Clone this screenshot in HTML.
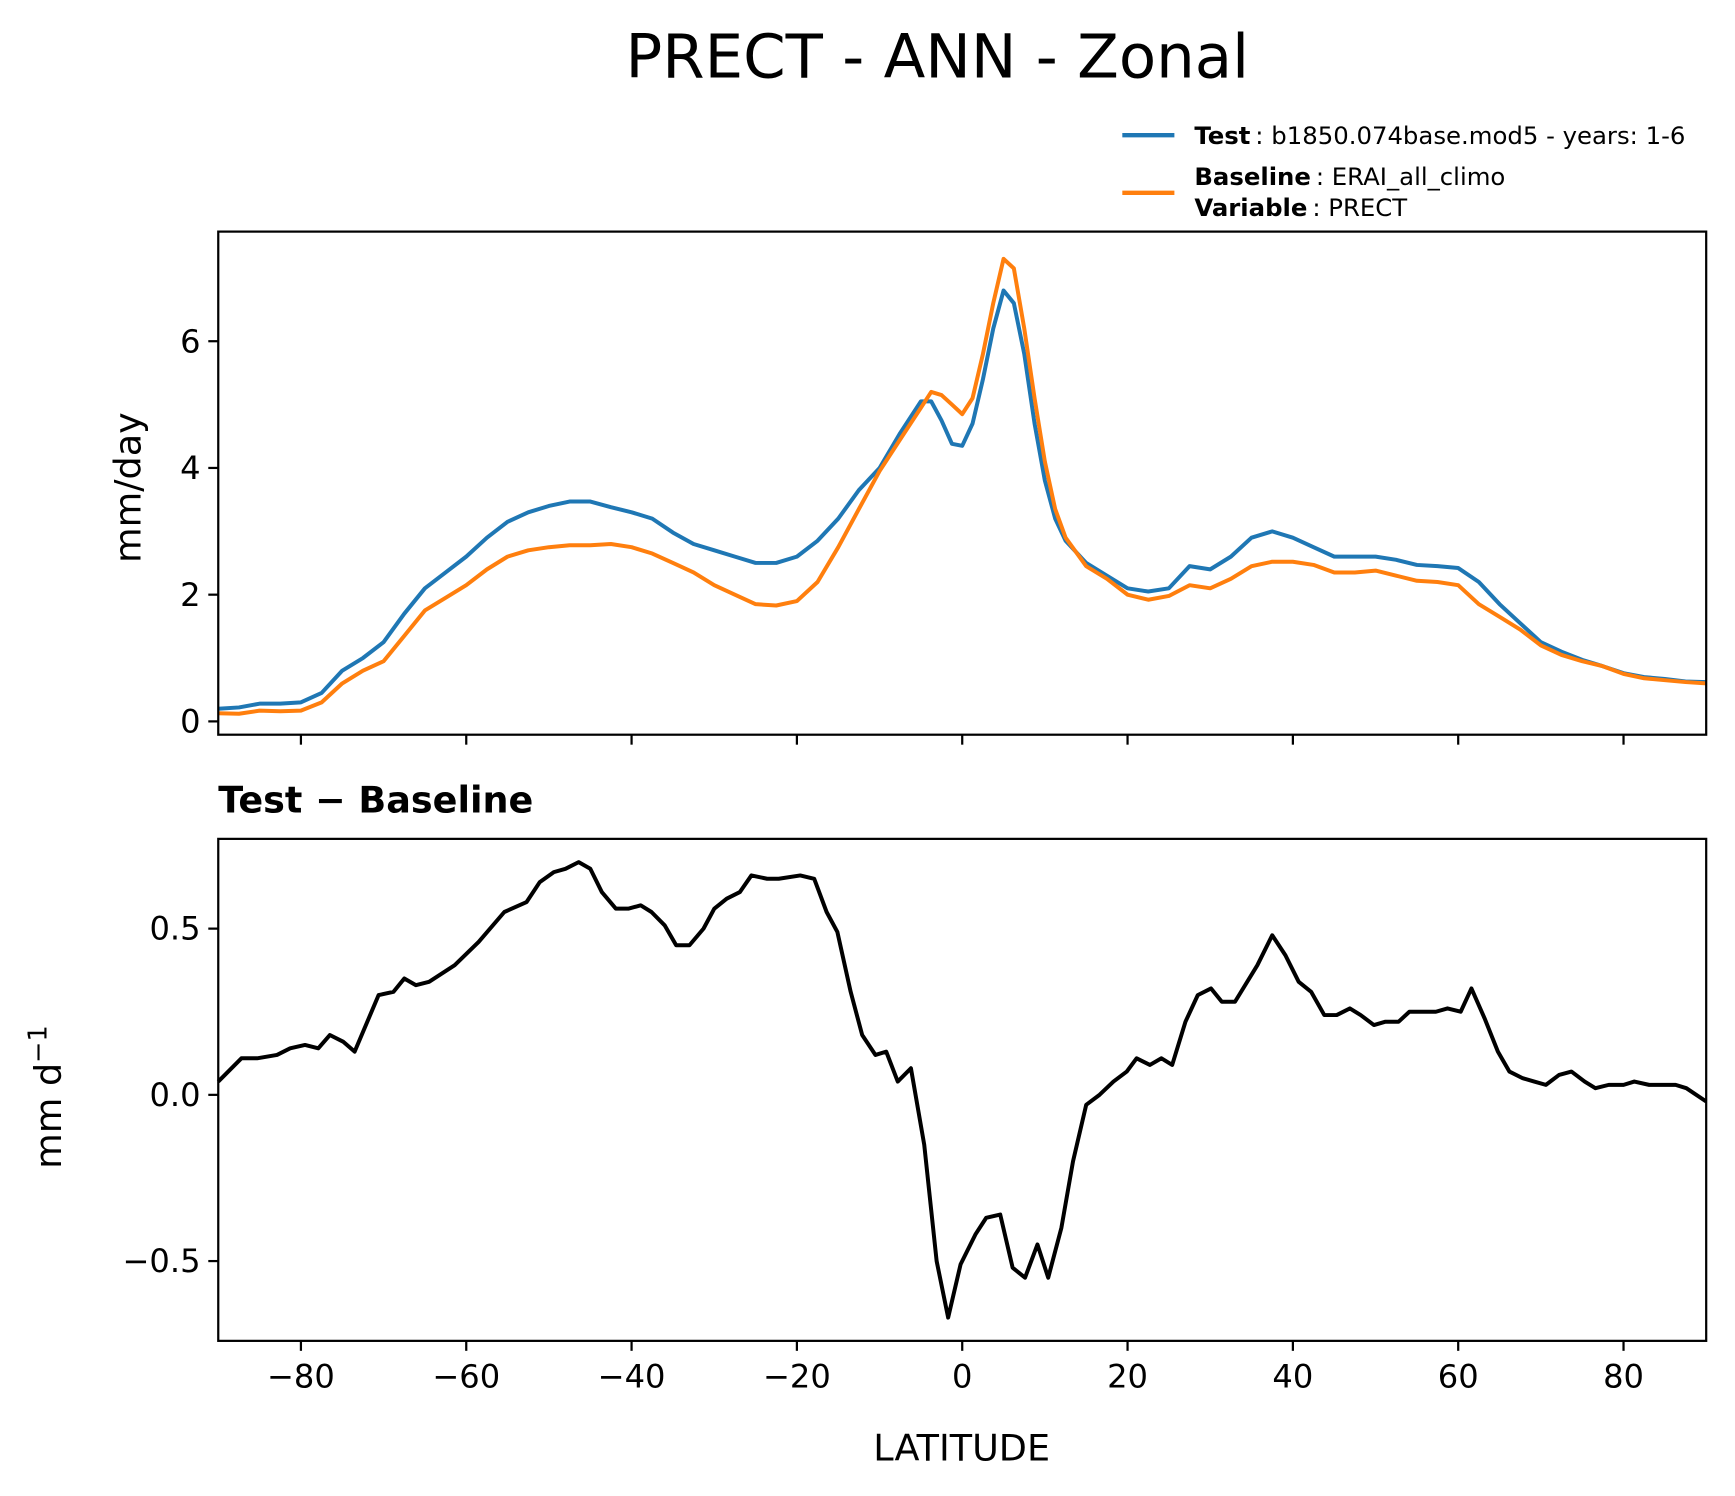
<!DOCTYPE html>
<html><head><meta charset="utf-8"><style>
html,body{margin:0;padding:0;background:#fff}
svg{display:block;font-family:"DejaVu Sans","Liberation Sans",sans-serif}
</style></head><body>
<svg id="chart" width="1735" height="1496" viewBox="0 0 1566 1350" preserveAspectRatio="none" xmlns="http://www.w3.org/2000/svg">
<rect width="1566" height="1350" fill="#fff"/>
<text x="846" y="70" font-size="55" text-anchor="middle">PRECT - ANN - Zonal</text>
<g>
<line x1="1013" y1="122" x2="1060" y2="122" stroke="#1f77b4" stroke-width="4"/>
<text x="1078" y="130" font-size="22"><tspan font-weight="bold">Test</tspan><tspan font-size="14"> </tspan>: b1850.074base.mod5 - years: 1-6</text>
<line x1="1013" y1="174" x2="1060" y2="174" stroke="#ff7f0e" stroke-width="4"/>
<text x="1078" y="167" font-size="22"><tspan font-weight="bold">Baseline</tspan><tspan font-size="14"> </tspan>: ERAI_all_climo</text>
<text x="1078" y="195" font-size="22"><tspan font-weight="bold">Variable</tspan><tspan font-size="14"> </tspan>: PRECT</text>
</g>
<g id="topPanel"></g>
<g id="botPanel"></g>
<text x="197" y="733" font-size="33" font-weight="bold">Test − Baseline</text>
<text transform="translate(127,440) rotate(-90)" font-size="33" text-anchor="middle">mm/day</text>
<text transform="translate(55,990) rotate(-90)" font-size="33" text-anchor="middle">mm d<tspan dy="-13" font-size="23">−1</tspan></text>
<text x="868" y="1318" font-size="33" text-anchor="middle">LATITUDE</text>
</svg>
<script>
const lats=[-90,-87.5,-85,-82.5,-80,-77.5,-75,-72.5,-70,-67.5,-65,-62.5,-60,-57.5,-55,-52.5,-50,-47.5,-45,-42.5,-40,-37.5,-35,-32.5,-30,-27.5,-25,-22.5,-20,-17.5,-15,-12.5,-10,-7.5,-5,-3.75,-2.5,-1.25,0,1.25,2.5,3.75,5,6.25,7.5,8.75,10,11.25,12.5,15,17.5,20,22.5,25,27.5,30,32.5,35,37.5,40,42.5,45,47.5,50,52.5,55,57.5,60,62.5,65,67.5,70,72.5,75,77.5,80,82.5,85,87.5,90];
const testVals=[0.2,0.22,0.28,0.28,0.3,0.45,0.8,1.0,1.25,1.7,2.1,2.35,2.6,2.9,3.15,3.3,3.4,3.47,3.47,3.38,3.3,3.2,2.98,2.8,2.7,2.6,2.5,2.5,2.6,2.85,3.2,3.65,4.0,4.55,5.05,5.05,4.75,4.38,4.35,4.7,5.4,6.2,6.8,6.6,5.8,4.7,3.8,3.2,2.85,2.5,2.3,2.1,2.05,2.1,2.45,2.4,2.6,2.9,3.0,2.9,2.75,2.6,2.6,2.6,2.55,2.47,2.45,2.42,2.2,1.85,1.55,1.25,1.1,0.97,0.87,0.76,0.7,0.67,0.63,0.62];
const baseVals=[0.13,0.12,0.17,0.16,0.17,0.3,0.6,0.8,0.95,1.35,1.75,1.95,2.15,2.4,2.6,2.7,2.75,2.78,2.78,2.8,2.75,2.65,2.5,2.35,2.15,2.0,1.85,1.83,1.9,2.2,2.75,3.35,3.95,4.45,4.95,5.2,5.15,5.0,4.85,5.1,5.8,6.6,7.3,7.15,6.2,5.1,4.1,3.35,2.9,2.45,2.25,2.0,1.92,1.98,2.15,2.1,2.25,2.45,2.52,2.52,2.47,2.35,2.35,2.38,2.3,2.22,2.2,2.15,1.85,1.65,1.45,1.2,1.05,0.95,0.87,0.75,0.68,0.65,0.62,0.6];
const diffLats=[-90,-87.2,-85.3,-82.9,-81.3,-79.5,-77.9,-76.5,-74.9,-73.5,-70.6,-68.8,-67.5,-66.1,-64.5,-61.4,-58.5,-55.4,-52.7,-51.1,-49.4,-48,-46.4,-45,-43.6,-41.9,-40.4,-38.9,-37.6,-36,-34.6,-33,-31.3,-30,-28.5,-26.9,-25.5,-23.6,-22.2,-19.6,-17.9,-16.4,-15.1,-13.5,-12.1,-10.5,-9.2,-7.8,-6.2,-4.6,-3.1,-1.7,-0.2,1.6,2.9,4.6,6.1,7.6,9.1,10.4,12,13.4,15,16.6,18.3,19.9,21.1,22.7,24.1,25.4,27,28.5,30.1,31.4,33,35.7,37.5,39.1,40.7,42.2,43.8,45.3,46.9,48.2,49.8,51.2,52.8,54.1,55.7,57.3,58.7,60.3,61.6,63.2,64.8,66.2,67.8,69.2,70.6,72.2,73.7,75.3,76.6,78.2,80,81.3,83.1,84.7,86.3,87.6,90];
const diffVals=[0.04,0.11,0.11,0.12,0.14,0.15,0.14,0.18,0.16,0.13,0.3,0.31,0.35,0.33,0.34,0.39,0.46,0.55,0.58,0.64,0.67,0.68,0.7,0.68,0.61,0.56,0.56,0.57,0.55,0.51,0.45,0.45,0.5,0.56,0.59,0.61,0.66,0.65,0.65,0.66,0.65,0.55,0.49,0.31,0.18,0.12,0.13,0.04,0.08,-0.15,-0.5,-0.67,-0.51,-0.42,-0.37,-0.36,-0.52,-0.55,-0.45,-0.55,-0.4,-0.2,-0.03,0.0,0.04,0.07,0.11,0.09,0.11,0.09,0.22,0.3,0.32,0.28,0.28,0.39,0.48,0.42,0.34,0.31,0.24,0.24,0.26,0.24,0.21,0.22,0.22,0.25,0.25,0.25,0.26,0.25,0.32,0.23,0.13,0.07,0.05,0.04,0.03,0.06,0.07,0.04,0.02,0.03,0.03,0.04,0.03,0.03,0.03,0.02,-0.02];
const xTicks=[-80,-60,-40,-20,0,20,40,60,80];
const xTickLabels=["−80","−60","−40","−20","0","20","40","60","80"];
const topYTicks=[0,2,4,6];
const topYTickLabels=["0","2","4","6"];
const botYTicks=[-0.5,0,0.5];
const botYTickLabels=["−0.5","0.0","0.5"];

const NS="http://www.w3.org/2000/svg";
const L=197,R=1540;
const xs=v=>L+(v+90)/180*(R-L);
function mk(tag,attrs,parent){const e=document.createElementNS(NS,tag);for(const k in attrs)e.setAttribute(k,attrs[k]);parent.appendChild(e);return e;}
function panel(g,T,B,ymin,ymax,yt,ytl,showX,name){
  const y=v=>B-(v-ymin)/(ymax-ymin)*(B-T);
  xTicks.forEach((t,i)=>{
    const tk=mk('line',{x1:xs(t),x2:xs(t),y1:B,y2:B+9,stroke:'#000','stroke-width':2},g);
    
    
    if(showX){const tx=mk('text',{x:xs(t),y:B+42,'font-size':29,'text-anchor':'middle'},g);tx.textContent=xTickLabels[i];
      
      }
  });
  yt.forEach((t,i)=>{
    const tk=mk('line',{x1:L-9,x2:L,y1:y(t),y2:y(t),stroke:'#000','stroke-width':2},g);
    
    
    const tx=mk('text',{x:L-16,y:y(t)+10,'font-size':29,'text-anchor':'end'},g);tx.textContent=ytl[i];
    
    
  });
  return y;
}
function drawLine(g,lx,vs,y,color,name){
  const d=lx.map((l,i)=>(i?'L':'M')+xs(l).toFixed(1)+','+y(vs[i]).toFixed(1)).join('');
  const p=mk('path',{d:d,fill:'none',stroke:color,'stroke-width':3.6,'stroke-linejoin':'round'},g);
  
  
}
const gTop=document.getElementById('topPanel'),gBot=document.getElementById('botPanel');
const yT=panel(gTop,209,663,-0.21,7.73,topYTicks,topYTickLabels,false,'top');
drawLine(gTop,lats,testVals,yT,'#1f77b4','test-line');
drawLine(gTop,lats,baseVals,yT,'#ff7f0e','baseline-line');
const f1=mk('rect',{x:L,y:209,width:R-L,height:454,fill:'none',stroke:'#000','stroke-width':2},gTop);


const yB=panel(gBot,757,1210,-0.74,0.77,botYTicks,botYTickLabels,true,'bottom');
drawLine(gBot,diffLats,diffVals,yB,'#000','difference-line');
const f2=mk('rect',{x:L,y:757,width:R-L,height:453,fill:'none',stroke:'#000','stroke-width':2},gBot);


</script>
</body></html>
